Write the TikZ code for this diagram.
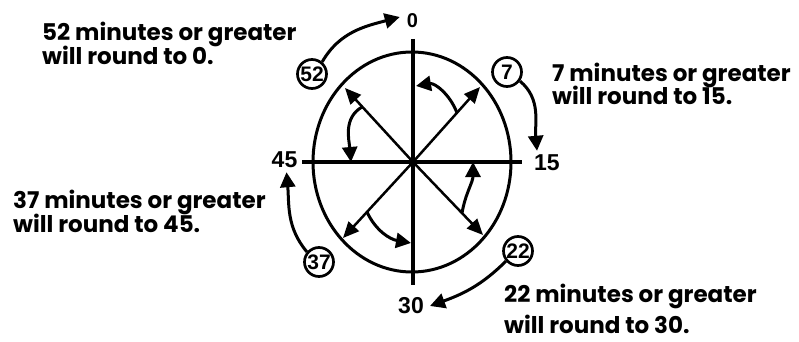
\documentclass[tikz,border=0pt]{standalone}
\usepackage{fontspec}
\usetikzlibrary{arrows.meta}
\newfontfamily\txtfont{Poppins}
\newfontfamily\numfont{Liberation Sans}
\begin{document}
\begin{tikzpicture}[x=1pt,y=1pt,
  txt/.style={anchor=base west,inner sep=0pt,font=\txtfont\bfseries\fontsize{23}{26}\selectfont},
  axlbl/.style={inner sep=0pt,font=\numfont\bfseries\fontsize{23}{25}\selectfont},
  num/.style={circle,draw,line width=2.7pt,inner sep=0pt,minimum size=29pt,font=\numfont\bfseries\fontsize{21}{22}\selectfont},
  axis/.style={line width=3.5pt},
  ray/.style={line width=2.5pt,-{Triangle[length=16pt,width=14pt]}},
  turn/.style={line width=3pt,-{Triangle[length=15pt,width=15pt]}},
]
\useasboundingbox (0,0) rectangle (799,-342);
\fill[white] (0,0) rectangle (799,-342);
% ellipse
\draw[line width=3pt] (412,-162) ellipse [x radius=99pt, y radius=110pt];
% axes
\coordinate (O) at (413,-162);
\coordinate (vt) at (413,-39);
\coordinate (vb) at (413,-285);
\coordinate (hl) at (302,-162);
\coordinate (hr) at (522,-162);
\draw[axis] (vt) -- (vb);
\draw[axis] (hl) -- (hr);
% rays
\coordinate (ne) at (480,-87);
\coordinate (nw) at (345,-88);
\coordinate (sw) at (343,-238);
\coordinate (se) at (483,-235);
\draw[ray] (O) -- (ne);
\draw[ray] (O) -- (nw);
\draw[ray] (O) -- (sw);
\draw[ray] (O) -- (se);
% inner turning arrows
\coordinate (a1s) at (457,-113); \coordinate (a1e) at (416,-86);
\coordinate (a2s) at (362,-107); \coordinate (a2e) at (351,-162);
\coordinate (a3s) at (367,-212); \coordinate (a3e) at (411,-243);
\coordinate (a4s) at (462,-213); \coordinate (a4e) at (473,-162);
\draw[turn] (a1s) to[out=110,in=10] (a1e);
\draw[turn] (a2s) to[out=210,in=95] (a2e);
\draw[turn] (a3s) to[out=-65,in=170] (a3e);
\draw[turn] (a4s) to[out=80,in=-90] (a4e);
% axis labels
\node[axlbl,font=\numfont\bfseries\fontsize{20}{22}\selectfont] (l0) at (412.5,-21) {0};
\node[axlbl,anchor=west] (l15) at (534,-163) {15};
\node[axlbl] (l30) at (411,-306) {30};
\node[axlbl] (l45) at (284.5,-160) {45};
% circled minutes
\node[num] (c52) at (312,-74) {52};
\node[num] (c7) at (507,-72) {7};
\node[num] (c22) at (518,-251) {22};
\node[num] (c37) at (319,-262) {37};
% outer arrows
\draw[turn] (c52.50) to[out=60,in=195] ([xshift=-7pt,yshift=4pt]l0.west);
\draw[turn] (c7.-35) to[out=-40,in=95] ([xshift=3pt,yshift=4pt]l15.north west);
\draw[turn] (c22.220) to[out=225,in=20] ([xshift=6pt]l30.east);
\draw[turn] (c37.140) to[out=130,in=-85] ([xshift=2pt,yshift=-4pt]l45.south);
% texts
\node[txt] (t52a) at (42,-41) {52 minutes or greater};
\node[txt] (t52b) at (42,-65) {will round to 0.};
\node[txt] (t7a) at (552,-82) {7 minutes or greater};
\node[txt] (t7b) at (552,-105) {will round to 15.};
\node[txt] (t37a) at (13,-208) {37 minutes or greater};
\node[txt] (t37b) at (13,-232) {will round to 45.};
\node[txt] (t22a) at (504,-302) {22 minutes or greater};
\node[txt] (t22b) at (504,-333) {will round to 30.};
\end{tikzpicture}
\end{document}
